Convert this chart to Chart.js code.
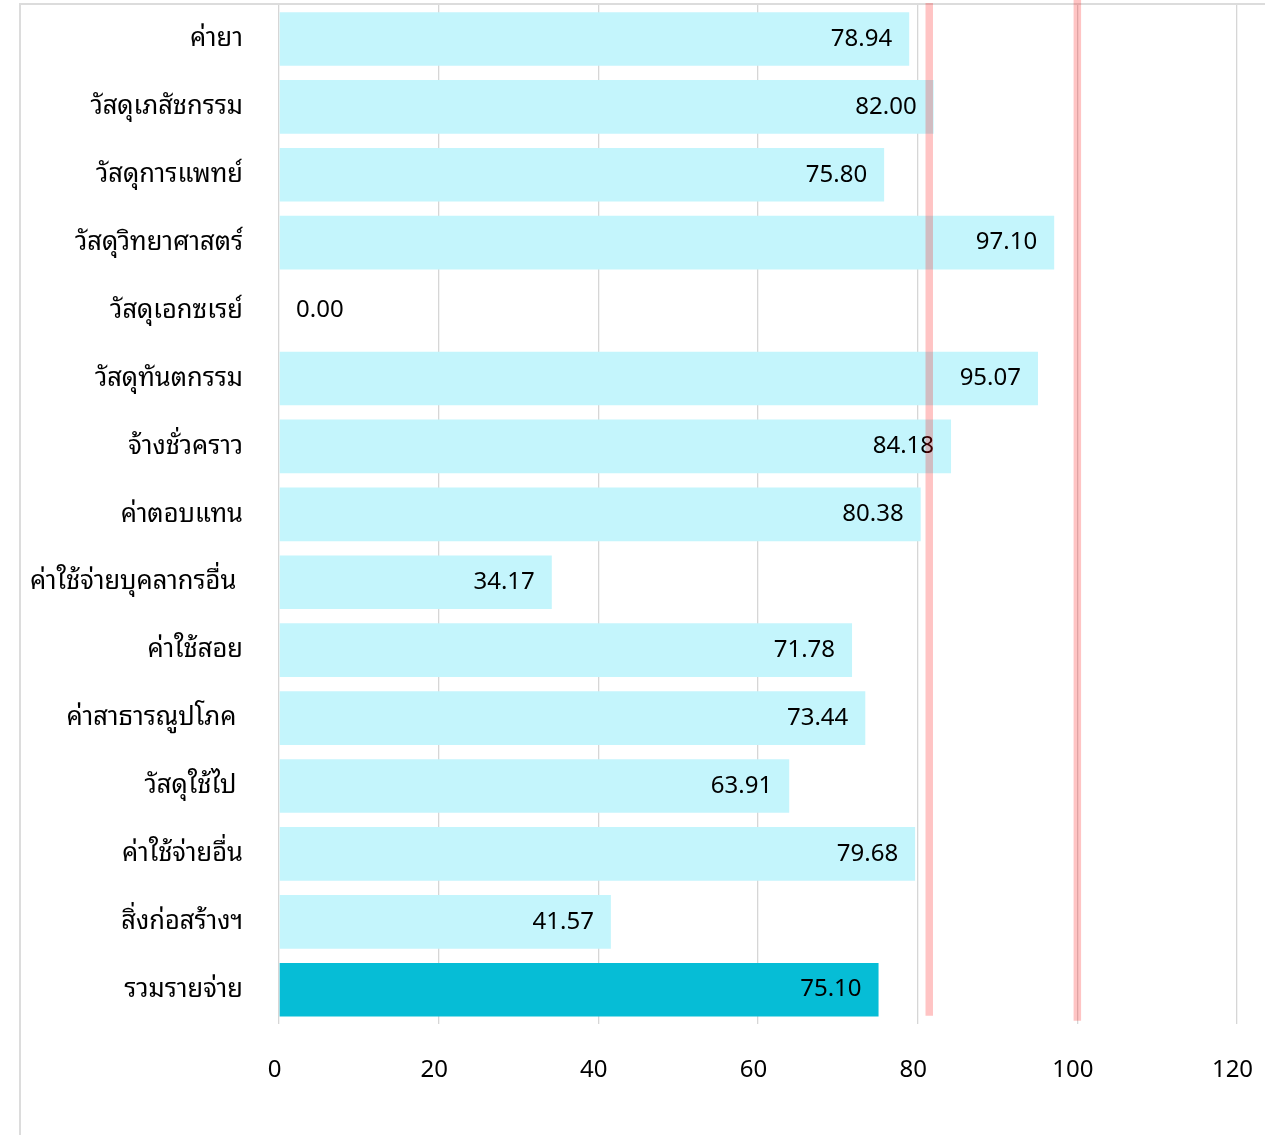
<!DOCTYPE html>
<html>
<head>
<meta charset="utf-8">
<script src="https://cdn.jsdelivr.net/npm/chart.js@4"></script>
<style>
  html, body { margin: 0; padding: 0; background: #fff; overflow: hidden; }
  .frame { position: absolute; left: 19px; top: 3px; width: 2000px; height: 2000px; border: 2px solid #dcdcdc; }
  #wrap { position: absolute; left: 0; top: 0; width: 1265px; height: 1135px; }
</style>
</head>
<body>
<div class="frame"></div>
<div id="wrap"><canvas id="chart" width="1265" height="1135"></canvas></div>
<script>
const categories = [
  "ค่ายา", "วัสดุเภสัชกรรม", "วัสดุการแพทย์", "วัสดุวิทยาศาสตร์", "วัสดุเอกซเรย์",
  "วัสดุทันตกรรม", "จ้างชั่วคราว", "ค่าตอบแทน", "ค่าใช้จ่ายบุคลากรอื่น ", "ค่าใช้สอย",
  "ค่าสาธารณูปโภค ", "วัสดุใช้ไป ", "ค่าใช้จ่ายอื่น", "สิ่งก่อสร้างฯ", "รวมรายจ่าย"
];
const values = [78.94, 82.00, 75.80, 97.10, 0.00, 95.07, 84.18, 80.38, 34.17, 71.78, 73.44, 63.91, 79.68, 41.57, 75.10];
const targetLines = [81.45, 100];
const xMin = 0, xMax = 120, xStep = 20;

const FONT = '"Noto Sans Thai Looped", "Noto Sans", "Noto Sans Thai", sans-serif';
const light = "#c4f5fc";
const dark = "#06bdd6";

// ตัวเลขบนแท่ง
const valueLabels = {
  id: "valueLabels",
  afterDatasetsDraw(chart) {
    const ctx = chart.ctx;
    const meta = chart.getDatasetMeta(0);
    ctx.save();
    ctx.font = "24px " + FONT;
    ctx.fillStyle = "#000";
    ctx.textBaseline = "middle";
    meta.data.forEach((bar, i) => {
      const txt = values[i].toFixed(2);
      const w = ctx.measureText(txt).width;
      if (bar.x - bar.base > w + 34) {
        ctx.textAlign = "right";
        ctx.fillText(txt, bar.x - 17, bar.y);
      } else {
        ctx.textAlign = "left";
        ctx.fillText(txt, bar.x + 17, bar.y);
      }
    });
    ctx.restore();
  }
};

// เส้นเป้าหมายสีแดง
const targetPlugin = {
  id: "targets",
  afterDraw(chart) {
    const ctx = chart.ctx;
    const area = chart.chartArea;
    const ext = [[area.top - 2, area.bottom - 8], [0, area.bottom - 3]];
    ctx.save();
    ctx.strokeStyle = "rgba(255,0,0,0.23)";
    ctx.lineWidth = 7.5;
    targetLines.forEach((v, i) => {
      const x = chart.scales.x.getPixelForValue(v);
      ctx.beginPath();
      ctx.moveTo(x, ext[i][0]);
      ctx.lineTo(x, ext[i][1]);
      ctx.stroke();
    });
    ctx.restore();
  }
};

new Chart(document.getElementById("chart"), {
  type: "bar",
  data: {
    labels: categories,
    datasets: [{
      data: values,
      backgroundColor: values.map((_, i) => i === values.length - 1 ? dark : light),
      borderWidth: 0,
      barPercentage: 0.79,
      categoryPercentage: 1.0
    }]
  },
  options: {
    indexAxis: "y",
    responsive: false,
    animation: false,
    layout: { padding: { top: 5, right: 28, bottom: 17.5, left: 0 } },
    plugins: { legend: { display: false }, tooltip: { enabled: false } },
    scales: {
      x: {
        min: xMin, max: xMax,
        ticks: { stepSize: xStep, padding: 32.5, labelOffset: -4.5, color: "#000", font: { family: FONT, size: 24 } },
        grid: { color: "#d6d6d6", lineWidth: 1.3, drawTicks: false },
        border: { display: false },
        afterFit(s) { s.paddingLeft = 0; s.paddingRight = 0; }
      },
      y: {
        ticks: { padding: 36, color: "#000", font: { family: FONT, size: 25.5 } },
        grid: { display: false, drawTicks: false },
        border: { display: false },
        afterFit(s) { s.width = 279; s.paddingTop = 0; s.paddingBottom = 0; }
      }
    }
  },
  plugins: [valueLabels, targetPlugin]
});
</script>
</body>
</html>
